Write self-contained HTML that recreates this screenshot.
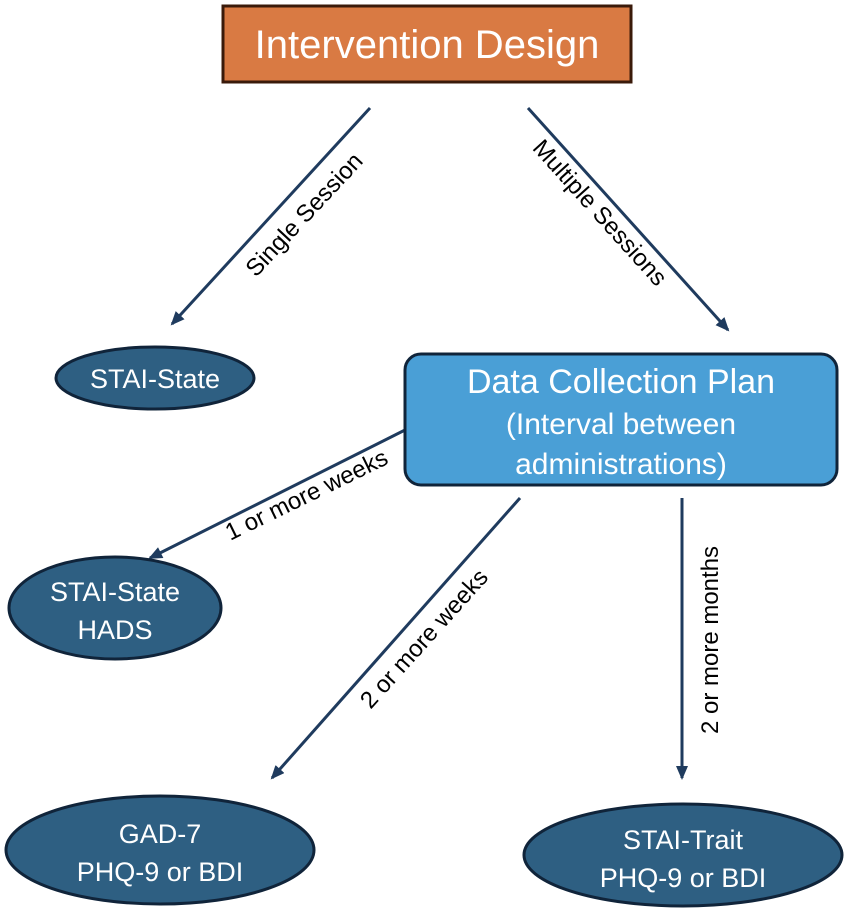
<!DOCTYPE html>
<html><head><style>body{margin:0;background:#fff}svg{display:block}</style></head><body>
<svg width="850" height="909" xmlns="http://www.w3.org/2000/svg" font-family="Liberation Sans, sans-serif">
<defs><marker id="a" markerWidth="14" markerHeight="12" refX="12" refY="6" orient="auto" markerUnits="userSpaceOnUse"><path d="M0,0 L14,6 L0,12 z" fill="#1F3B5E"/></marker></defs>
<rect x="223" y="6" width="408" height="76" fill="#D97A43" stroke="#3a1a0a" stroke-width="3"/>
<text x="427" y="58" font-size="40" fill="#fff" text-anchor="middle">Intervention Design</text>
<g stroke="#1F3B5E" stroke-width="3" marker-end="url(#a)">
<line x1="370" y1="108" x2="172" y2="324"/>
<line x1="528" y1="108" x2="728" y2="330"/>
<line x1="405" y1="430" x2="150" y2="558"/>
<line x1="520" y1="498" x2="272" y2="778"/>
<line x1="682" y1="498" x2="682" y2="778"/>
</g>
<g font-size="24" fill="#000" text-anchor="middle">
<text transform="translate(310,220) rotate(-47)">Single Session</text>
<text transform="translate(594,218) rotate(48)">Multiple Sessions</text>
<text transform="translate(310,502) rotate(-26)">1 or more weeks</text>
<text transform="translate(430,644) rotate(-48)">2 or more weeks</text>
<text transform="translate(718,640) rotate(-90)">2 or more months</text>
</g>
<g fill="#2E5F82" stroke="#10243a" stroke-width="3">
<ellipse cx="155" cy="378" rx="99" ry="31"/>
<ellipse cx="115" cy="608" rx="106" ry="51"/>
<ellipse cx="160" cy="850" rx="154" ry="54"/>
<ellipse cx="683" cy="855" rx="159" ry="51"/>
</g>
<rect x="405" y="354" width="432" height="131" rx="16" fill="#4A9FD6" stroke="#10243a" stroke-width="3"/>
<g fill="#fff" text-anchor="middle">
<text x="621" y="393" font-size="34">Data Collection Plan</text>
<text x="621" y="434" font-size="30">(Interval between</text>
<text x="621" y="474" font-size="30">administrations)</text>
<g font-size="27">
<text x="155" y="388">STAI-State</text>
<text x="115" y="601">STAI-State</text>
<text x="115" y="639">HADS</text>
<text x="160" y="843">GAD-7</text>
<text x="160" y="881">PHQ-9 or BDI</text>
<text x="683" y="849">STAI-Trait</text>
<text x="683" y="887">PHQ-9 or BDI</text>
</g></g>
</svg>
</body></html>
